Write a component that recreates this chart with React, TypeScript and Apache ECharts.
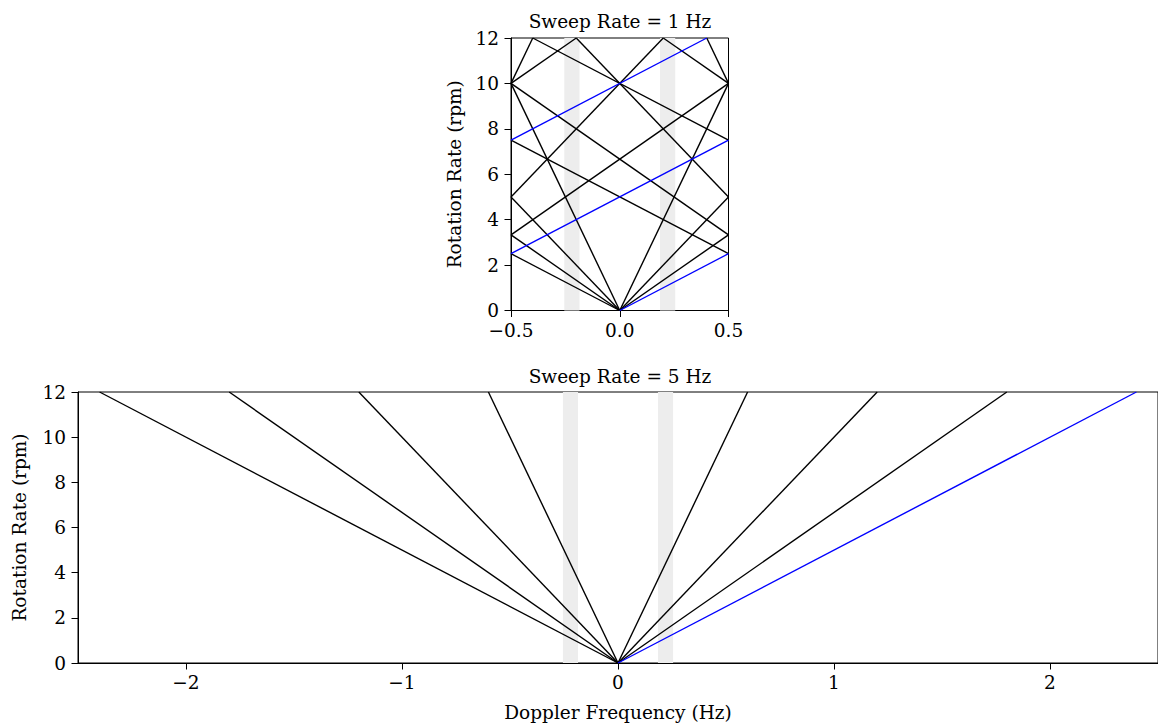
import React, { useEffect, useRef } from "react";
import * as echarts from "echarts";

const rpmTicks = [0, 2, 4, 6, 8, 10, 12];
const topFreqTicks = [-0.5, 0, 0.5];
const bottomFreqTicks = [-2, -1, 0, 1, 2];
const guardBands = [
  [-0.255, -0.185],
  [0.185, 0.255],
];

// Sweep Rate = 1 Hz: aliased segments [f0, rpm0, f1, rpm1]
const aliasedBlack = [
  [0, 0, 0.5, 10], [-0.5, 10, -0.4, 12],
  [0, 0, -0.5, 10], [0.5, 10, 0.4, 12],
  [0, 0, 0.5, 5], [-0.5, 5, 0.2, 12],
  [0, 0, -0.5, 5], [0.5, 5, -0.2, 12],
  [0, 0, 0.5, 3.333], [-0.5, 3.333, 0.5, 10], [-0.5, 10, -0.2, 12],
  [0, 0, -0.5, 3.333], [0.5, 3.333, -0.5, 10], [0.5, 10, 0.2, 12],
  [0, 0, -0.5, 2.5], [0.5, 2.5, -0.5, 7.5], [0.5, 7.5, -0.4, 12],
];
const aliasedBlue = [
  [0, 0, 0.5, 2.5], [-0.5, 2.5, 0.5, 7.5], [-0.5, 7.5, 0.4, 12],
];

// Sweep Rate = 5 Hz: lines from origin to (freq, 12 rpm)
const fullEndFreqBlack = [-2.4, -1.8, -1.2, -0.6, 0.6, 1.2, 1.8];
const fullEndFreqBlue = [2.4];
const rpmMax = 12;

const FONT = "DejaVu Serif";
const FS = 18.5;

const fmt = (digits: number) => (v: number) => {
  const s = digits > 0 ? v.toFixed(digits) : String(Math.round(v));
  return s.replace("-", "\u2212");
};

function axisCommon() {
  return {
    axisLine: { show: true, onZero: false, lineStyle: { color: "#000", width: 1 } },
    axisTick: { show: true, length: 6.5, lineStyle: { color: "#000", width: 1 } },
    splitLine: { show: false },
    axisLabel: { color: "#000", fontFamily: FONT, fontSize: FS, margin: 12 },
    nameTextStyle: { color: "#000", fontFamily: FONT, fontSize: FS },
  };
}

export default function App() {
  const ref = useRef<HTMLDivElement>(null);
  useEffect(() => {
    if (!ref.current) return;
    const chart = echarts.init(ref.current, null, { renderer: "svg" });

    const series: any[] = [];
    const seg = (s: number[], color: string, gi: number) => ({
      type: "line",
      xAxisIndex: gi,
      yAxisIndex: gi,
      data: [
        [s[0], s[1]],
        [s[2], s[3]],
      ],
      showSymbol: false,
      symbol: "none",
      lineStyle: { color, width: 1.4 },
      z: color === "#0000ff" ? 4 : 3,
      silent: true,
    });

    [0, 1].forEach((gi) => {
      series.push({
        type: "line",
        xAxisIndex: gi,
        yAxisIndex: gi,
        data: [],
        z: 1,
        silent: true,
        markArea: {
          silent: true,
          itemStyle: { color: "#ededed" },
          data: guardBands.map((b) => [{ xAxis: b[0] }, { xAxis: b[1] }]),
        },
      });
    });

    aliasedBlack.forEach((s) => series.push(seg(s, "#000000", 0)));
    aliasedBlue.forEach((s) => series.push(seg(s, "#0000ff", 0)));
    fullEndFreqBlack.forEach((f) => series.push(seg([0, 0, f, rpmMax], "#000000", 1)));
    fullEndFreqBlue.forEach((f) => series.push(seg([0, 0, f, rpmMax], "#0000ff", 1)));

    const c = axisCommon();

    chart.setOption({
      animation: false,
      backgroundColor: "#fff",
      title: [
        {
          text: "Sweep Rate = 1 Hz",
          left: 615,
          top: 7,
          textAlign: "center",
          textStyle: { fontFamily: FONT, fontSize: FS, fontWeight: "normal", color: "#000" },
        },
        {
          text: "Sweep Rate = 5 Hz",
          left: 615,
          top: 362,
          textAlign: "center",
          textStyle: { fontFamily: FONT, fontSize: FS, fontWeight: "normal", color: "#000" },
        },
      ],
      grid: [
        { left: 511, top: 38, width: 217.5, height: 272.5, show: true, borderColor: "#000", borderWidth: 1, backgroundColor: "transparent", containLabel: false },
        { left: 78, top: 392, width: 1084, height: 271, show: true, borderColor: "#000", borderWidth: 1, backgroundColor: "transparent", containLabel: false },
      ],
      xAxis: [
        {
          type: "value",
          gridIndex: 0,
          min: -0.5,
          max: 0.5,
          ...c,
          axisTick: { ...c.axisTick, customValues: topFreqTicks },
          axisLabel: { ...c.axisLabel, margin: 10, customValues: topFreqTicks, formatter: fmt(1) },
        },
        {
          type: "value",
          gridIndex: 1,
          min: -2.5,
          max: 2.5,
          ...c,
          name: "Doppler Frequency (Hz)",
          nameLocation: "middle",
          nameGap: 40,
          axisTick: { ...c.axisTick, customValues: bottomFreqTicks },
          axisLabel: { ...c.axisLabel, margin: 10, customValues: bottomFreqTicks, formatter: fmt(0) },
        },
      ],
      yAxis: [
        {
          type: "value",
          gridIndex: 0,
          min: 0,
          max: 12,
          ...c,
          name: "Rotation Rate (rpm)",
          nameLocation: "middle",
          nameGap: 47,
          nameRotate: 90,
          axisTick: { ...c.axisTick, customValues: rpmTicks },
          axisLabel: { ...c.axisLabel, customValues: rpmTicks, formatter: fmt(0) },
        },
        {
          type: "value",
          gridIndex: 1,
          min: 0,
          max: 12,
          ...c,
          name: "Rotation Rate (rpm)",
          nameLocation: "middle",
          nameGap: 49,
          nameRotate: 90,
          axisTick: { ...c.axisTick, customValues: rpmTicks },
          axisLabel: { ...c.axisLabel, customValues: rpmTicks, formatter: fmt(0) },
        },
      ],
      series,
    });
    return () => chart.dispose();
  }, []);

  return (
    <div
      ref={ref}
      style={{ position: "absolute", left: 0, top: 0, width: 1158, height: 724 }}
    />
  );
}
